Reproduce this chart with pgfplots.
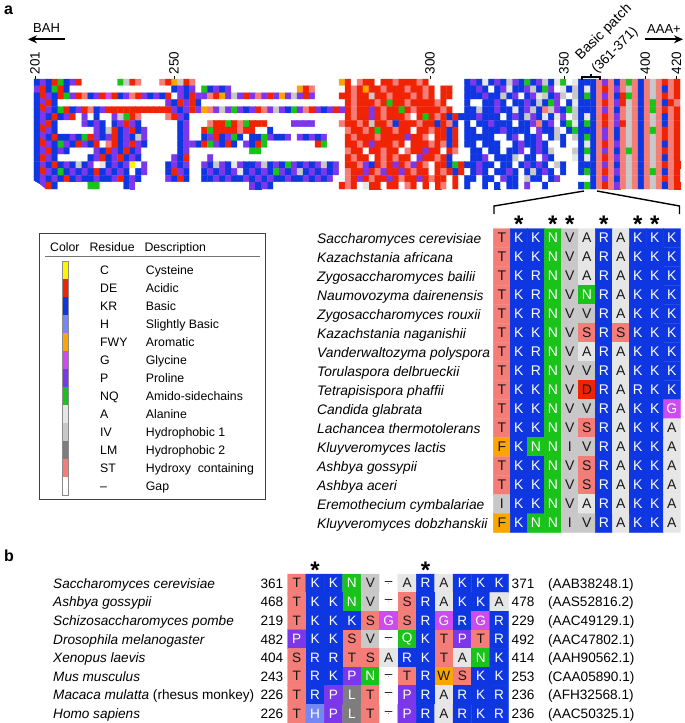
\documentclass[border=0pt]{standalone}
\usepackage{pgfplots}
\pgfplotsset{compat=1.18}
\usepackage{pgfplotstable}
\usetikzlibrary{arrows.meta}
\usepackage{fontspec}
\setmainfont{Liberation Sans}
\newcommand{\fs}[1]{\fontsize{#1}{#1}\selectfont}
\definecolor{txt}{RGB}{25,25,25}
\pgfplotsset{
  colormap={aln}{rgb255=(255,255,255) rgb255=(240,35,5) rgb255=(15,55,225) rgb255=(245,125,120) rgb255=(125,55,235) rgb255=(205,75,240) rgb255=(25,195,25) rgb255=(200,200,200) rgb255=(230,230,230) rgb255=(250,165,0) rgb255=(125,125,125) rgb255=(115,135,245) rgb255=(255,245,0)},
  grid ax/.style={scale only axis, axis lines=none, anchor=north west, enlargelimits=false, colormap name=aln, colormap access=direct, clip=false},
  letters/.style={only marks, mark=*, mark size=0.01pt, mark options={draw=none,fill=none}, point meta=explicit symbolic,
    visualization depends on={\thisrow{w}\as\wc},
    nodes near coords={\ifdim\wc pt>0.5pt\color{white}\fi\pgfplotspointmeta},
    every node near coord/.append style={anchor=center, inner sep=0pt, font=\fs{#1}, text=txt}},
}
% panel a alignment: column, row, colour code, letter, white text
\pgfplotstableread{
c r k l w
0 0 3 T 0
1 0 2 K 1
2 0 2 K 1
3 0 6 N 1
4 0 7 V 0
5 0 8 A 0
6 0 2 R 1
7 0 8 A 0
8 0 2 K 1
9 0 2 K 1
10 0 2 K 1
0 1 3 T 0
1 1 2 K 1
2 1 2 K 1
3 1 6 N 1
4 1 7 V 0
5 1 8 A 0
6 1 2 R 1
7 1 8 A 0
8 1 2 K 1
9 1 2 K 1
10 1 2 K 1
0 2 3 T 0
1 2 2 K 1
2 2 2 R 1
3 2 6 N 1
4 2 7 V 0
5 2 8 A 0
6 2 2 R 1
7 2 8 A 0
8 2 2 K 1
9 2 2 K 1
10 2 2 K 1
0 3 3 T 0
1 3 2 K 1
2 3 2 R 1
3 3 6 N 1
4 3 7 V 0
5 3 6 N 1
6 3 2 R 1
7 3 8 A 0
8 3 2 K 1
9 3 2 K 1
10 3 2 K 1
0 4 3 T 0
1 4 2 K 1
2 4 2 R 1
3 4 6 N 1
4 4 7 V 0
5 4 7 V 0
6 4 2 R 1
7 4 8 A 0
8 4 2 K 1
9 4 2 K 1
10 4 2 K 1
0 5 3 T 0
1 5 2 K 1
2 5 2 K 1
3 5 6 N 1
4 5 7 V 0
5 5 3 S 0
6 5 2 R 1
7 5 3 S 0
8 5 2 K 1
9 5 2 K 1
10 5 2 K 1
0 6 3 T 0
1 6 2 K 1
2 6 2 R 1
3 6 6 N 1
4 6 7 V 0
5 6 8 A 0
6 6 2 R 1
7 6 8 A 0
8 6 2 K 1
9 6 2 K 1
10 6 2 K 1
0 7 3 T 0
1 7 2 K 1
2 7 2 R 1
3 7 6 N 1
4 7 7 V 0
5 7 7 V 0
6 7 2 R 1
7 7 8 A 0
8 7 2 K 1
9 7 2 K 1
10 7 2 K 1
0 8 3 T 0
1 8 2 K 1
2 8 2 K 1
3 8 6 N 1
4 8 7 V 0
5 8 1 D 0
6 8 2 R 1
7 8 8 A 0
8 8 2 R 1
9 8 2 K 1
10 8 2 K 1
0 9 3 T 0
1 9 2 K 1
2 9 2 K 1
3 9 6 N 1
4 9 7 V 0
5 9 7 V 0
6 9 2 R 1
7 9 8 A 0
8 9 2 K 1
9 9 2 K 1
10 9 5 G 1
0 10 3 T 0
1 10 2 K 1
2 10 2 K 1
3 10 6 N 1
4 10 7 V 0
5 10 3 S 0
6 10 2 R 1
7 10 8 A 0
8 10 2 K 1
9 10 2 K 1
10 10 8 A 0
0 11 9 F 0
1 11 2 K 1
2 11 6 N 1
3 11 6 N 1
4 11 7 I 0
5 11 7 V 0
6 11 2 R 1
7 11 8 A 0
8 11 2 K 1
9 11 2 K 1
10 11 8 A 0
0 12 3 T 0
1 12 2 K 1
2 12 2 K 1
3 12 6 N 1
4 12 7 V 0
5 12 3 S 0
6 12 2 R 1
7 12 8 A 0
8 12 2 K 1
9 12 2 K 1
10 12 8 A 0
0 13 3 T 0
1 13 2 K 1
2 13 2 K 1
3 13 6 N 1
4 13 7 V 0
5 13 3 S 0
6 13 2 R 1
7 13 8 A 0
8 13 2 K 1
9 13 2 K 1
10 13 8 A 0
0 14 7 I 0
1 14 2 K 1
2 14 2 K 1
3 14 6 N 1
4 14 7 V 0
5 14 8 A 0
6 14 2 R 1
7 14 8 A 0
8 14 2 K 1
9 14 2 K 1
10 14 8 A 0
0 15 9 F 0
1 15 2 K 1
2 15 6 N 1
3 15 6 N 1
4 15 7 I 0
5 15 7 V 0
6 15 2 R 1
7 15 8 A 0
8 15 2 K 1
9 15 2 K 1
10 15 8 A 0
}\tabA
% panel b alignment
\pgfplotstableread{
c r k l w
0 0 3 T 0
1 0 2 K 1
2 0 2 K 1
3 0 6 N 1
4 0 7 V 0
5 0 0 -- 0
6 0 8 A 0
7 0 2 R 1
8 0 8 A 0
9 0 2 K 1
10 0 2 K 1
11 0 2 K 1
0 1 3 T 0
1 1 2 K 1
2 1 2 K 1
3 1 6 N 1
4 1 7 V 0
5 1 0 -- 0
6 1 3 S 0
7 1 2 R 1
8 1 8 A 0
9 1 2 K 1
10 1 2 K 1
11 1 8 A 0
0 2 3 T 0
1 2 2 K 1
2 2 2 K 1
3 2 2 K 1
4 2 3 S 0
5 2 5 G 1
6 2 3 S 0
7 2 2 R 1
8 2 5 G 1
9 2 2 R 1
10 2 5 G 1
11 2 2 R 1
0 3 4 P 1
1 3 2 K 1
2 3 2 K 1
3 3 3 S 0
4 3 7 V 0
5 3 0 -- 0
6 3 6 Q 1
7 3 2 K 1
8 3 3 T 0
9 3 4 P 1
10 3 3 T 0
11 3 2 R 1
0 4 3 S 0
1 4 2 R 1
2 4 2 R 1
3 4 3 T 0
4 4 3 S 0
5 4 8 A 0
6 4 2 R 1
7 4 2 K 1
8 4 3 T 0
9 4 8 A 0
10 4 6 N 1
11 4 2 K 1
0 5 3 T 0
1 5 2 R 1
2 5 2 K 1
3 5 4 P 1
4 5 6 N 1
5 5 0 -- 0
6 5 3 T 0
7 5 2 R 1
8 5 9 W 0
9 5 3 S 0
10 5 2 K 1
11 5 2 K 1
0 6 3 T 0
1 6 2 R 1
2 6 4 P 1
3 6 10 L 1
4 6 3 T 0
5 6 0 -- 0
6 6 4 P 1
7 6 2 R 1
8 6 8 A 0
9 6 2 R 1
10 6 2 K 1
11 6 2 R 1
0 7 3 T 0
1 7 11 H 1
2 7 4 P 1
3 7 10 L 1
4 7 3 T 0
5 7 0 -- 0
6 7 4 P 1
7 7 2 R 1
8 7 8 A 0
9 7 2 R 1
10 7 2 K 1
11 7 2 R 1
}\tabB
% legend swatches
\pgfplotstableread{
c r k
0 0 12
1 0 12
0 1 1
1 1 1
0 2 2
1 2 2
0 3 11
1 3 11
0 4 9
1 4 9
0 5 5
1 5 5
0 6 4
1 6 4
0 7 6
1 7 6
0 8 8
1 8 8
0 9 7
1 9 7
0 10 10
1 10 10
0 11 3
1 11 3
0 12 0
1 12 0
}\tabL
\begin{document}
\begin{tikzpicture}
\path[use as bounding box] (0,0) rectangle (685pt,-723pt);
% ---------- overview heat map (16 sequences x 108 column bins) ----------
\begin{axis}[scale only axis, anchor=north west, at={(34pt,-79pt)}, width=646pt, height=110pt,
  xmin=-0.5, xmax=107.5, ymin=-15.5, ymax=0.5, enlargelimits=false,
  hide y axis, axis x line*=top, x axis line style={draw=none},
  xtick={-0.33,22.9,65.7,88.1,101.7,106.9}, xticklabels={201,250,300,350,400,420},
  tick align=outside, major tick length=3.5pt, xtick style={black, line width=0.8pt},
  xticklabel style={rotate=90, anchor=west, font=\fs{13.5}, inner sep=1pt},
  colormap name=aln, colormap access=direct, clip=false]
\addplot[matrix plot*, mesh/cols=108, point meta=explicit] table[row sep=\\, header=false, x expr={mod(\coordindex,108)}, y expr={-floor(\coordindex/108)}, meta index=0] {
2\\4\\2\\1\\6\\2\\4\\1\\0\\0\\0\\0\\
0\\0\\6\\7\\1\\3\\0\\0\\0\\3\\1\\9\\
7\\1\\3\\0\\0\\0\\0\\0\\0\\0\\0\\0\\
0\\0\\0\\0\\0\\0\\0\\0\\0\\0\\0\\0\\
0\\0\\0\\9\\1\\0\\3\\1\\1\\0\\1\\1\\
3\\1\\1\\1\\3\\1\\0\\0\\0\\0\\0\\0\\
2\\4\\2\\8\\2\\4\\2\\7\\4\\2\\6\\2\\
4\\7\\2\\8\\6\\0\\8\\2\\2\\2\\3\\4\\
3\\2\\3\\6\\3\\2\\3\\7\\3\\1\\3\\1\\
4\\1\\2\\6\\1\\2\\0\\0\\0\\0\\0\\0\\
0\\0\\0\\0\\0\\0\\0\\0\\0\\0\\0\\2\\
4\\2\\4\\0\\6\\2\\4\\2\\4\\0\\0\\0\\
0\\0\\0\\0\\0\\0\\0\\0\\9\\1\\3\\0\\
0\\0\\0\\0\\1\\3\\1\\9\\1\\1\\3\\1\\
1\\1\\3\\1\\1\\3\\1\\0\\1\\1\\0\\0\\
2\\2\\4\\2\\0\\2\\4\\8\\2\\2\\4\\7\\
2\\6\\4\\0\\8\\2\\7\\2\\8\\2\\3\\1\\
3\\4\\3\\7\\3\\2\\3\\7\\3\\2\\3\\1\\
2\\1\\4\\2\\1\\6\\4\\1\\3\\2\\4\\1\\
5\\1\\2\\4\\3\\1\\4\\2\\4\\2\\1\\0\\
4\\2\\1\\4\\4\\3\\1\\9\\4\\7\\4\\1\\
4\\3\\4\\1\\4\\9\\4\\7\\4\\1\\4\\0\\
0\\0\\0\\1\\1\\3\\1\\1\\7\\1\\1\\3\\
1\\1\\1\\3\\1\\3\\1\\0\\1\\1\\0\\0\\
2\\2\\2\\4\\2\\2\\7\\2\\4\\0\\2\\4\\
8\\7\\2\\4\\7\\0\\7\\2\\6\\2\\3\\4\\
3\\2\\1\\6\\3\\2\\3\\7\\3\\1\\3\\1\\
2\\4\\1\\2\\0\\0\\0\\0\\0\\0\\0\\0\\
0\\0\\0\\0\\0\\0\\0\\0\\0\\0\\4\\2\\
1\\4\\1\\2\\0\\0\\0\\0\\0\\0\\0\\0\\
0\\0\\0\\0\\0\\0\\0\\0\\0\\0\\0\\0\\
0\\0\\0\\0\\1\\3\\1\\1\\1\\3\\1\\6\\
1\\1\\3\\1\\1\\1\\1\\3\\1\\0\\0\\0\\
2\\0\\0\\2\\2\\4\\2\\0\\2\\2\\4\\2\\
7\\2\\6\\4\\0\\2\\8\\2\\2\\2\\3\\1\\
3\\4\\1\\7\\3\\2\\3\\6\\3\\2\\1\\3\\
2\\1\\4\\2\\6\\1\\2\\4\\1\\3\\2\\4\\
1\\1\\1\\1\\1\\1\\1\\1\\1\\1\\1\\4\\
2\\4\\1\\4\\9\\3\\4\\7\\4\\6\\4\\2\\
4\\1\\3\\4\\7\\4\\2\\6\\4\\3\\1\\4\\
2\\4\\1\\4\\1\\3\\1\\1\\4\\1\\3\\1\\
1\\6\\1\\3\\1\\1\\1\\1\\3\\1\\0\\0\\
2\\2\\7\\2\\2\\4\\2\\2\\8\\2\\4\\7\\
2\\3\\7\\4\\2\\6\\7\\2\\2\\2\\3\\4\\
3\\2\\3\\7\\3\\2\\3\\6\\3\\1\\3\\1\\
2\\4\\2\\1\\2\\4\\1\\0\\4\\0\\2\\0\\
0\\4\\7\\6\\1\\3\\0\\0\\0\\0\\3\\1\\
4\\2\\0\\0\\0\\0\\0\\0\\0\\0\\0\\0\\
0\\0\\0\\0\\0\\0\\0\\0\\0\\0\\0\\0\\
0\\0\\0\\0\\1\\3\\1\\1\\4\\1\\3\\1\\
1\\1\\3\\0\\1\\6\\1\\3\\1\\2\\1\\2\\
2\\2\\4\\2\\2\\2\\0\\2\\4\\2\\7\\4\\
2\\8\\2\\8\\4\\0\\7\\2\\8\\2\\3\\1\\
3\\4\\3\\7\\3\\2\\3\\7\\3\\2\\3\\1\\
2\\4\\1\\2\\0\\0\\0\\0\\4\\2\\4\\2\\
0\\2\\4\\1\\4\\2\\0\\0\\0\\0\\0\\0\\
2\\4\\0\\0\\0\\3\\1\\1\\6\\1\\3\\6\\
1\\1\\1\\0\\0\\0\\0\\4\\4\\4\\4\\0\\
0\\0\\0\\3\\1\\1\\3\\1\\7\\1\\1\\3\\
2\\1\\1\\1\\3\\1\\1\\2\\1\\3\\2\\0\\
2\\0\\2\\2\\4\\2\\2\\2\\0\\2\\2\\4\\
3\\2\\4\\0\\2\\6\\8\\2\\6\\2\\3\\1\\
3\\4\\1\\7\\3\\2\\3\\7\\3\\2\\3\\1\\
2\\1\\4\\2\\0\\0\\0\\0\\0\\0\\4\\2\\
7\\1\\2\\4\\1\\2\\4\\0\\0\\0\\0\\0\\
2\\4\\0\\0\\1\\6\\1\\1\\1\\1\\3\\1\\
1\\0\\0\\2\\0\\0\\0\\0\\0\\0\\0\\0\\
0\\0\\0\\0\\3\\1\\1\\3\\1\\6\\1\\1\\
3\\1\\1\\0\\1\\1\\3\\1\\1\\2\\1\\0\\
2\\2\\0\\2\\2\\2\\4\\2\\2\\2\\2\\0\\
4\\2\\2\\7\\0\\2\\6\\2\\2\\2\\3\\4\\
3\\2\\3\\7\\3\\2\\3\\6\\3\\1\\3\\1\\
2\\4\\2\\1\\2\\2\\4\\2\\6\\1\\4\\2\\
4\\1\\2\\4\\2\\7\\4\\0\\0\\0\\0\\0\\
2\\4\\0\\0\\2\\4\\1\\2\\4\\6\\2\\0\\
2\\2\\6\\4\\2\\2\\4\\0\\4\\2\\4\\2\\
4\\0\\0\\0\\1\\3\\1\\1\\1\\3\\1\\1\\
1\\1\\4\\1\\1\\3\\0\\1\\1\\2\\1\\0\\
2\\2\\2\\2\\2\\0\\0\\2\\4\\0\\2\\2\\
4\\0\\2\\7\\2\\0\\7\\2\\6\\2\\3\\4\\
3\\2\\3\\7\\3\\2\\3\\7\\3\\1\\3\\1\\
2\\1\\4\\2\\6\\4\\2\\1\\4\\2\\1\\0\\
3\\1\\2\\4\\1\\4\\2\\0\\0\\0\\0\\0\\
2\\4\\4\\2\\1\\6\\4\\2\\1\\2\\0\\4\\
2\\1\\6\\0\\0\\0\\0\\0\\0\\0\\0\\1\\
6\\0\\0\\0\\1\\1\\3\\1\\4\\1\\1\\1\\
3\\1\\0\\1\\1\\1\\3\\1\\3\\2\\1\\0\\
2\\2\\0\\2\\2\\2\\0\\0\\2\\4\\2\\2\\
4\\2\\0\\0\\2\\0\\0\\2\\8\\2\\3\\1\\
3\\4\\3\\7\\3\\2\\3\\7\\3\\2\\3\\1\\
2\\4\\1\\2\\4\\2\\0\\0\\0\\0\\4\\2\\
1\\4\\2\\1\\2\\4\\0\\0\\0\\0\\0\\0\\
2\\4\\0\\0\\0\\0\\0\\0\\0\\0\\0\\0\\
6\\6\\0\\0\\0\\0\\0\\0\\0\\0\\0\\0\\
0\\0\\0\\0\\3\\1\\1\\0\\1\\1\\3\\1\\
1\\0\\3\\1\\1\\4\\1\\1\\0\\1\\3\\0\\
0\\2\\2\\0\\2\\2\\0\\2\\2\\4\\0\\2\\
4\\2\\7\\0\\0\\0\\7\\2\\6\\2\\3\\4\\
3\\2\\3\\6\\3\\2\\3\\7\\3\\1\\3\\1\\
2\\1\\4\\2\\0\\0\\0\\0\\0\\2\\4\\1\\
2\\4\\1\\2\\4\\2\\0\\0\\0\\0\\0\\4\\
2\\1\\0\\0\\0\\4\\0\\0\\0\\0\\0\\0\\
0\\0\\0\\0\\0\\0\\0\\0\\0\\0\\0\\0\\
0\\0\\0\\0\\1\\3\\1\\1\\0\\1\\3\\1\\
3\\1\\1\\0\\4\\1\\1\\3\\1\\2\\0\\0\\
0\\2\\2\\4\\0\\2\\2\\2\\7\\0\\2\\2\\
0\\4\\2\\0\\0\\0\\8\\2\\8\\2\\3\\1\\
3\\4\\3\\7\\3\\2\\3\\7\\3\\2\\3\\1\\
2\\4\\2\\1\\2\\4\\2\\7\\2\\4\\0\\8\\
2\\4\\2\\4\\12\\0\\4\\0\\0\\0\\2\\4\\
2\\4\\0\\0\\4\\2\\7\\4\\2\\8\\4\\2\\
2\\4\\7\\2\\4\\2\\6\\4\\2\\4\\2\\4\\
7\\2\\4\\0\\1\\1\\3\\4\\2\\1\\3\\1\\
4\\1\\3\\4\\1\\3\\0\\1\\1\\2\\6\\1\\
2\\2\\4\\2\\2\\0\\2\\2\\0\\2\\4\\2\\
4\\2\\0\\7\\2\\0\\0\\2\\2\\2\\3\\4\\
3\\2\\3\\7\\3\\2\\3\\7\\3\\1\\3\\1\\
2\\1\\4\\2\\6\\2\\4\\2\\4\\2\\1\\2\\
4\\2\\4\\2\\0\\2\\4\\0\\0\\0\\2\\1\\
4\\2\\0\\0\\2\\4\\2\\4\\2\\4\\8\\2\\
4\\2\\4\\2\\6\\4\\2\\4\\7\\2\\4\\2\\
4\\2\\4\\0\\3\\1\\1\\4\\1\\3\\4\\1\\
1\\4\\1\\3\\1\\1\\0\\1\\3\\1\\2\\1\\
0\\2\\4\\2\\0\\2\\2\\4\\2\\0\\2\\7\\
2\\4\\2\\0\\2\\0\\0\\2\\6\\2\\3\\1\\
3\\4\\3\\7\\3\\2\\3\\6\\3\\2\\3\\1\\
2\\4\\2\\4\\2\\1\\2\\4\\2\\2\\4\\2\\
2\\4\\1\\2\\4\\2\\0\\0\\0\\0\\4\\2\\
1\\2\\0\\0\\2\\2\\4\\2\\4\\2\\2\\4\\
2\\4\\2\\4\\2\\2\\4\\2\\2\\4\\2\\4\\
2\\4\\0\\0\\3\\1\\4\\1\\3\\1\\1\\4\\
1\\3\\1\\1\\4\\1\\3\\1\\1\\0\\1\\0\\
2\\2\\0\\2\\2\\0\\4\\2\\2\\0\\7\\2\\
2\\0\\2\\4\\0\\0\\0\\0\\0\\2\\3\\4\\
3\\2\\3\\7\\3\\2\\3\\7\\3\\1\\3\\1\\
2\\4\\1\\2\\0\\0\\0\\0\\0\\6\\6\\0\\
0\\0\\0\\2\\4\\0\\0\\0\\0\\0\\0\\0\\
0\\0\\0\\0\\0\\0\\0\\0\\0\\0\\0\\0\\
4\\2\\4\\2\\0\\0\\0\\0\\0\\0\\0\\0\\
0\\0\\0\\1\\3\\1\\0\\8\\1\\1\\0\\1\\
1\\0\\3\\1\\0\\1\\0\\1\\3\\0\\1\\0\\
2\\0\\0\\2\\0\\2\\0\\2\\2\\0\\4\\0\\
0\\2\\0\\0\\0\\0\\0\\2\\6\\2\\3\\1\\
3\\4\\3\\7\\3\\2\\3\\7\\3\\2\\3\\1\\
};
\end{axis}
% ---------- panel a alignment ----------
\begin{axis}[grid ax, at={(493.3pt,-228.5pt)}, width=187pt, height=304pt,
  xmin=-0.5, xmax=10.5, ymin=-0.5, ymax=15.5, y dir=reverse]
\addplot[matrix plot*, mesh/cols=11, point meta=explicit] table[x=c, y=r, meta=k] {\tabA};
\addplot[letters=14] table[x=c, y=r, meta=l] {\tabA};
\end{axis}
% ---------- panel b alignment ----------
\begin{axis}[grid ax, at={(287.5pt,-574pt)}, width=220.8pt, height=148.8pt,
  xmin=-0.5, xmax=11.5, ymin=-0.5, ymax=7.5, y dir=reverse]
\addplot[matrix plot*, mesh/cols=12, point meta=explicit] table[x=c, y=r, meta=k] {\tabB};
\addplot[letters=13.6] table[x=c, y=r, meta=l] {\tabB};
\end{axis}
% ---------- legend swatches ----------
\begin{axis}[grid ax, at={(62.3pt,-261pt)}, width=6pt, height=234pt,
  xmin=-0.5, xmax=1.5, ymin=-0.5, ymax=12.5, y dir=reverse]
\addplot[matrix plot*, mesh/cols=2, point meta=explicit] table[x=c, y=r, meta=k] {\tabL};
\draw[black!45, line width=0.6pt] (axis cs:-0.5,-0.5) rectangle (axis cs:1.5,12.5);
\end{axis}
% ---------- annotations ----------
\node[anchor=base west, font=\fs{16}\bfseries, inner sep=0pt] at (4pt,-14pt) {a};
\node[anchor=base west, font=\fs{16}\bfseries, inner sep=0pt] at (4pt,-561pt) {b};
\node[anchor=base west, font=\fs{13}, inner sep=0pt] at (33pt,-32.5pt) {BAH};
\draw[-{Stealth[length=9pt,width=8pt]}, line width=1.8pt] (65pt,-39.3pt) -- (28pt,-39.3pt);
\node[anchor=base west, font=\fs{13}, inner sep=0pt] at (647pt,-33pt) {AAA+};
\draw[-{Stealth[length=9pt,width=8pt]}, line width=1.8pt] (645pt,-39.3pt) -- (683pt,-39.3pt);
\node[rotate=45, anchor=base west, inner sep=0pt, font=\fs{14}] at (580.7pt,-60.7pt) {Basic patch};
\node[rotate=45, anchor=base west, inner sep=0pt, font=\fs{13.5}] at (596.7pt,-74pt) {(361-371)};
\draw[line width=1.1pt] (582pt,-80pt) -- (582pt,-77pt) -- (600pt,-77pt) -- (600pt,-80pt);
\draw[line width=1.1pt] (591pt,-77pt) -- (591pt,-73.5pt);
% zoom lines
\draw[line width=1.4pt] (584pt,-191pt) -- (494pt,-206pt) -- (494pt,-214pt);
\draw[line width=1.4pt] (597pt,-191pt) -- (679.5pt,-206pt) -- (679.5pt,-214pt);
% stars
\foreach \sx in {518.8,552.8,569.8,603.8,637.8,654.8}{
  \node[font=\fs{24}\bfseries, inner sep=0pt] at (\sx pt,-224pt) {*};}
\foreach \sx in {315.1,425.5}{
  \node[font=\fs{24}\bfseries, inner sep=0pt] at (\sx pt,-570pt) {*};}
% species names panel a
\begin{scope}[every node/.style={anchor=base west, inner sep=0pt, font=\fs{13.8}\itshape}]
\node at (317pt,-243pt) {Saccharomyces cerevisiae};
\node at (317pt,-262pt) {Kazachstania africana};
\node at (317pt,-281pt) {Zygosaccharomyces bailii};
\node at (317pt,-300pt) {Naumovozyma dairenensis};
\node at (317pt,-319pt) {Zygosaccharomyces rouxii};
\node at (317pt,-338pt) {Kazachstania naganishii};
\node at (317pt,-357pt) {Vanderwaltozyma polyspora};
\node at (317pt,-376pt) {Torulaspora delbrueckii};
\node at (317pt,-395pt) {Tetrapisispora phaffii};
\node at (317pt,-414pt) {Candida glabrata};
\node at (317pt,-433pt) {Lachancea thermotolerans};
\node at (317pt,-452pt) {Kluyveromyces lactis};
\node at (317pt,-471pt) {Ashbya gossypii};
\node at (317pt,-490pt) {Ashbya aceri};
\node at (317pt,-509pt) {Eremothecium cymbalariae};
\node at (317pt,-528pt) {Kluyveromyces dobzhanskii};
\end{scope}
% panel b names, numbers, accessions
\begin{scope}[every node/.style={anchor=base west, inner sep=0pt, font=\fs{13.6}}]
\node at (53pt,-588.2pt) {\itshape Saccharomyces cerevisiae};
\node at (53pt,-606.8pt) {\itshape Ashbya gossypii};
\node at (53pt,-625.4pt) {\itshape Schizosaccharomyces pombe};
\node at (53pt,-644pt) {\itshape Drosophila melanogaster};
\node at (53pt,-662.6pt) {\itshape Xenopus laevis};
\node at (53pt,-681.2pt) {\itshape Mus musculus};
\node at (53pt,-699.8pt) {\textit{Macaca mulatta} (rhesus monkey)};
\node at (53pt,-718.4pt) {\itshape Homo sapiens};
\foreach \n/\y in {361/588.2,468/606.8,219/625.4,482/644,404/662.6,243/681.2,226/699.8,226/718.4}
  {\node[anchor=base east] at (283.5pt,-\y pt) {\n};}
\foreach \n/\y in {371/588.2,478/606.8,229/625.4,492/644,414/662.6,253/681.2,236/699.8,236/718.4}
  {\node at (511.5pt,-\y pt) {\n};}
\node at (548pt,-588.2pt) {(AAB38248.1)};
\node at (548pt,-606.8pt) {(AAS52816.2)};
\node at (548pt,-625.4pt) {(AAC49129.1)};
\node at (548pt,-644pt) {(AAC47802.1)};
\node at (548pt,-662.6pt) {(AAH90562.1)};
\node at (548pt,-681.2pt) {(CAA05890.1)};
\node at (548pt,-699.8pt) {(AFH32568.1)};
\node at (548pt,-718.4pt) {(AAC50325.1)};
\end{scope}
% legend box
\draw[black!75, line width=1pt] (39.5pt,-233.5pt) rectangle (265pt,-499.5pt);
\draw[black!55, line width=1.3pt] (45pt,-256.8pt) -- (260pt,-256.8pt);
\begin{scope}[every node/.style={anchor=base west, inner sep=0pt, font=\fs{12.3}}]
\node at (50pt,-251.5pt) {Color};
\node at (89.3pt,-251.5pt) {Residue};
\node at (144.3pt,-251.5pt) {Description};
\foreach \r/\d [count=\i from 0] in {C/Cysteine,DE/Acidic,KR/Basic,H/Slightly Basic,FWY/Aromatic,G/Glycine,P/Proline,NQ/Amido-sidechains,A/Alanine,IV/Hydrophobic 1,LM/Hydrophobic 2,ST/Hydroxy\ \ containing,--/Gap}{
  \node at (100pt,{-(274.4+18*\i)*1pt}) {\r};
  \node at (145.7pt,{-(274.4+18*\i)*1pt}) {\d};}
\end{scope}
\end{tikzpicture}
\end{document}
